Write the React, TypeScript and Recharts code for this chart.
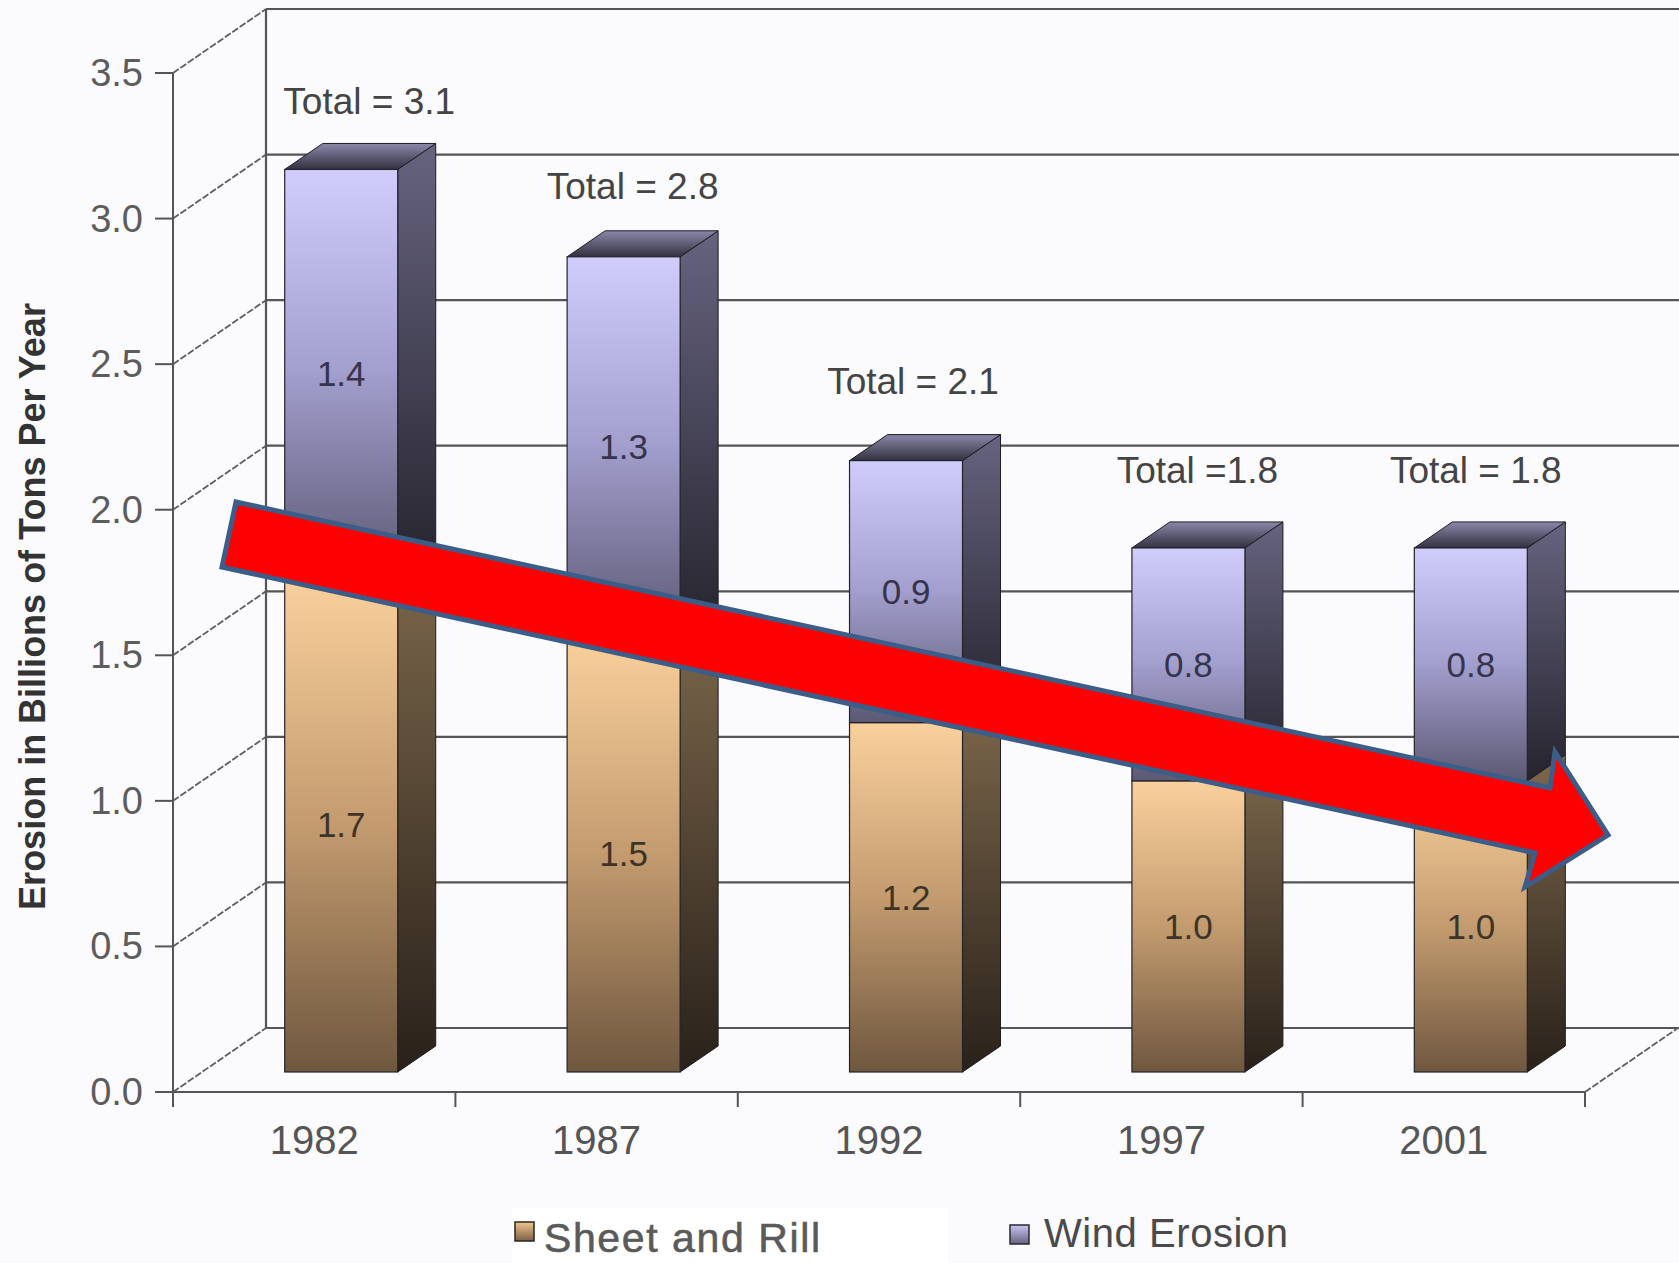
import React from 'react';
import { BarChart, Bar, XAxis, YAxis, CartesianGrid, LabelList, Label } from 'recharts';

const years = ['1982', '1987', '1992', '1997', '2001'];
const sheetAndRill = [1.7, 1.5, 1.2, 1.0, 1.0];
const windErosion = [1.4, 1.3, 0.9, 0.8, 0.8];
const totalLabels = ['Total = 3.1', 'Total = 2.8', 'Total = 2.1', 'Total =1.8', 'Total = 1.8'];
const yTicks = [0, 0.5, 1, 1.5, 2, 2.5, 3, 3.5];

const rows = years.map((year, i) => ({ year, sheet: sheetAndRill[i], wind: windErosion[i] }));

const W = 1679;
const H = 1263;
const FONT = '"Liberation Sans", Arial, Helvetica, sans-serif';
const BG = '#fbfafd';
const AXIS = '#555555';

// fake 3-D: back wall offset, column offset from the front plane, column depth
const WALL = { dx: 93, dy: -64 };
const BAR_SHIFT = { dx: 27, dy: -20 };
const BAR_DEPTH = { dx: 38, dy: -26 };

// hand placement of the "Total" captions above each column
const TOTAL_NUDGE = [
  { dx: 28, dy: -68 },
  { dx: 9, dy: -70 },
  { dx: 7, dy: -79 },
  { dx: 9, dy: -77 },
  { dx: 5, dy: -77 },
];

const pts = (p: number[][]) => p.map((q) => q.join(',')).join(' ');

function Column(props: any) {
  const { x, y, width, height, kind, withTop } = props;
  if (width == null || height == null) return null;
  const fx = x + BAR_SHIFT.dx;
  const fy = y + BAR_SHIFT.dy;
  const { dx, dy } = BAR_DEPTH;
  const side = pts([
    [fx + width, fy],
    [fx + width + dx, fy + dy],
    [fx + width + dx, fy + height + dy],
    [fx + width, fy + height],
  ]);
  const top = pts([
    [fx, fy],
    [fx + width, fy],
    [fx + width + dx, fy + dy],
    [fx + dx, fy + dy],
  ]);
  return (
    <g>
      <polygon points={side} fill={`url(#${kind}Side)`} stroke="#1d1c22" strokeWidth={1} />
      {withTop && <polygon points={top} fill={`url(#${kind}Top)`} stroke="#1d1c22" strokeWidth={1} />}
      <rect x={fx} y={fy} width={width} height={height} fill={`url(#${kind}Front)`} stroke="#24232a" strokeWidth={1.2} />
    </g>
  );
}

const segmentLabel = (color: string) => (props: any) => {
  const { x, y, width, height, value } = props;
  if (x == null || value == null) return null;
  return (
    <text
      x={x + BAR_SHIFT.dx + width / 2}
      y={y + BAR_SHIFT.dy + height / 2}
      textAnchor="middle"
      dominantBaseline="central"
      fontFamily={FONT}
      fontSize={35}
      fill={color}
    >
      {Number(value).toFixed(1)}
    </text>
  );
};

const totalCaption = (props: any) => {
  const { x, y, width, index } = props;
  if (x == null || index == null) return null;
  const n = TOTAL_NUDGE[index];
  return (
    <text
      x={x + BAR_SHIFT.dx + width / 2 + n.dx}
      y={y + BAR_SHIFT.dy + n.dy}
      textAnchor="middle"
      dominantBaseline="central"
      fontFamily={FONT}
      fontSize={37}
      fill="#444"
    >
      {totalLabels[index]}
    </text>
  );
};

// horizontal gridlines live on the back wall, joined to the front axis by a diagonal
const backLine = (p: any) => {
  const { x1, y1 } = p;
  const bx = x1 + WALL.dx;
  const by = y1 + WALL.dy;
  return (
    <g key={`h-${y1}`}>
      <line x1={x1} y1={y1} x2={bx} y2={by} stroke="#5e5e5e" strokeWidth={1.8} strokeDasharray="7 2" />
      <line x1={bx} y1={by} x2={W} y2={by} stroke={AXIS} strokeWidth={2.2} />
    </g>
  );
};

const wallEdge = (p: any) => {
  const { x1, y1, x2, y2 } = p;
  return (
    <line
      key={`v-${x1}`}
      x1={x1 + WALL.dx}
      y1={y1 + WALL.dy}
      x2={x2 + WALL.dx}
      y2={y2 + WALL.dy}
      stroke={AXIS}
      strokeWidth={2.2}
    />
  );
};

const YTick = (props: any) => {
  const { x, y, payload } = props;
  return (
    <g>
      <line x1={x - 18} y1={y} x2={x} y2={y} stroke={AXIS} strokeWidth={2} />
      <text x={x - 30} y={y + 13} textAnchor="end" fontFamily={FONT} fontSize={38} fill="#5c5c5c">
        {Number(payload.value).toFixed(1)}
      </text>
    </g>
  );
};

const XTick = (props: any) => {
  const { x, y, payload, index, visibleTicksCount } = props;
  const half = payload && payload.offset > 0 ? payload.offset : (W - 173 - 94) / years.length / 2;
  const last = index === (visibleTicksCount ?? years.length) - 1;
  return (
    <g>
      <line x1={x - half} y1={y} x2={x - half} y2={y + 15} stroke={AXIS} strokeWidth={2} />
      {last && (
        <>
          <line x1={x + half} y1={y} x2={x + half} y2={y + 15} stroke={AXIS} strokeWidth={2} />
          <line x1={x + half} y1={y} x2={x + half + WALL.dx} y2={y + WALL.dy} stroke="#5e5e5e" strokeWidth={1.8} strokeDasharray="7 2" />
        </>
      )}
      <text x={x} y={y + 62} textAnchor="middle" fontFamily={FONT} fontSize={40} fill="#555">
        {payload.value}
      </text>
    </g>
  );
};

const axisTitle = (props: any) => {
  const vb = props.viewBox || { x: 0, y: 73, width: 173, height: 1019 };
  const cx = vb.x + 32;
  const cy = vb.y + vb.height / 2 + 24;
  return (
    <text
      x={cx}
      y={cy}
      transform={`rotate(-90 ${cx} ${cy})`}
      textAnchor="middle"
      dominantBaseline="central"
      fontFamily={FONT}
      fontWeight="bold"
      fontSize={36}
      fill="#333"
    >
      Erosion in Billions of Tons Per Year
    </text>
  );
};

export default function App() {
  return (
    <div style={{ position: 'absolute', left: 0, top: 0, width: W, height: H, background: BG, overflow: 'hidden' }}>
      <BarChart
        width={W}
        height={H}
        data={rows}
        margin={{ top: 73, right: 94, left: 0, bottom: 0 }}
        barCategoryGap="30%"
      >
        <defs>
          <linearGradient id="sheetFront" x1="0" y1="0" x2="0" y2="1">
            <stop offset="0%" stopColor="#fad09c" />
            <stop offset="50%" stopColor="#c39b6f" />
            <stop offset="100%" stopColor="#6f573f" />
          </linearGradient>
          <linearGradient id="sheetSide" x1="0" y1="0" x2="0" y2="1">
            <stop offset="0%" stopColor="#7d684c" />
            <stop offset="100%" stopColor="#29211a" />
          </linearGradient>
          <linearGradient id="sheetTop" x1="0" y1="0" x2="0" y2="1">
            <stop offset="0%" stopColor="#b29270" />
            <stop offset="100%" stopColor="#5a4734" />
          </linearGradient>
          <linearGradient id="windFront" x1="0" y1="0" x2="0" y2="1">
            <stop offset="0%" stopColor="#d0ccfb" />
            <stop offset="50%" stopColor="#a29ecd" />
            <stop offset="100%" stopColor="#5c5974" />
          </linearGradient>
          <linearGradient id="windSide" x1="0" y1="0" x2="0" y2="1">
            <stop offset="0%" stopColor="#66637f" />
            <stop offset="100%" stopColor="#25242d" />
          </linearGradient>
          <linearGradient id="windTop" x1="0" y1="0" x2="0" y2="1">
            <stop offset="0%" stopColor="#8a88aa" />
            <stop offset="100%" stopColor="#33313f" />
          </linearGradient>
        </defs>
        <CartesianGrid
          horizontal={backLine}
          vertical={wallEdge}
          verticalCoordinatesGenerator={({ offset }: any) => [offset.left]}
        />
        <YAxis
          width={173}
          domain={[0, 3.5]}
          ticks={yTicks}
          interval={0}
          tickSize={0}
          tickMargin={0}
          tickLine={false}
          axisLine={{ stroke: AXIS, strokeWidth: 2 }}
          tick={<YTick />}
          label={<Label content={axisTitle} />}
        />
        <XAxis
          dataKey="year"
          height={171}
          interval={0}
          tickSize={0}
          tickMargin={0}
          tickLine={false}
          axisLine={{ stroke: AXIS, strokeWidth: 2 }}
          tick={<XTick />}
        />
        <Bar
          dataKey="sheet"
          name="Sheet and Rill"
          stackId="erosion"
          isAnimationActive={false}
          shape={(p: any) => <Column {...p} kind="sheet" withTop={false} />}
        >
          <LabelList dataKey="sheet" content={segmentLabel('#3d3427')} />
        </Bar>
        <Bar
          dataKey="wind"
          name="Wind Erosion"
          stackId="erosion"
          isAnimationActive={false}
          shape={(p: any) => <Column {...p} kind="wind" withTop />}
        >
          <LabelList dataKey="wind" content={segmentLabel('#35344a')} />
          <LabelList dataKey="wind" content={totalCaption} />
        </Bar>
      </BarChart>

      <svg width={W} height={H} style={{ position: 'absolute', left: 0, top: 0, pointerEvents: 'none' }}>
        <defs>
          <linearGradient id="sheetKey" x1="0" y1="0" x2="0" y2="1">
            <stop offset="0%" stopColor="#f2c48e" />
            <stop offset="100%" stopColor="#7a6045" />
          </linearGradient>
          <linearGradient id="windKey" x1="0" y1="0" x2="0" y2="1">
            <stop offset="0%" stopColor="#c9c5f2" />
            <stop offset="100%" stopColor="#66637f" />
          </linearGradient>
        </defs>
        {/* legend */}
        <rect x={512} y={1208} width={436} height={60} fill="#ffffff" />
        <rect x={515} y={1222} width={19} height={19} fill="url(#sheetKey)" stroke="#2a2520" strokeWidth={1.5} />
        <text x={544} y={1252} fontFamily={FONT} fontSize={41} fill="#5a5a5a" stroke="#5a5a5a" strokeWidth={0.6} textLength={276}>
          Sheet and Rill
        </text>
        <rect x={1010} y={1225} width={19} height={19} fill="url(#windKey)" stroke="#2a2930" strokeWidth={1.5} />
        <text x={1044} y={1247} fontFamily={FONT} fontSize={40} fill="#4a4a4a" textLength={244}>
          Wind Erosion
        </text>
        {/* downward trend arrow */}
        <polygon
          points="236,502 1550,788 1555,752 1608,835 1525,887 1535,853 222,567"
          fill="#ff0000"
          stroke="#3b5d88"
          strokeWidth={5}
          strokeLinejoin="miter"
        />
      </svg>
    </div>
  );
}
